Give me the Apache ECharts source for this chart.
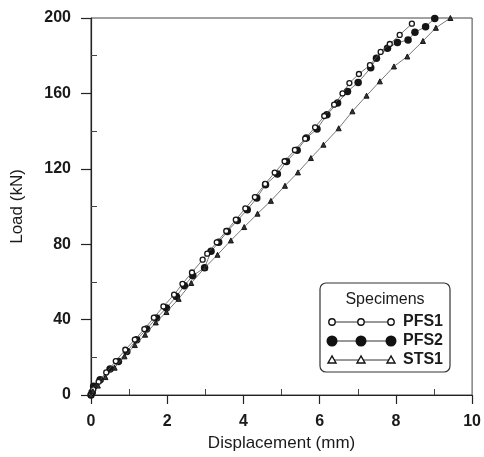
<!DOCTYPE html>
<html><head><meta charset="utf-8">
<script src="https://cdn.jsdelivr.net/npm/echarts@6/dist/echarts.min.js"></script>
<style>html,body{margin:0;padding:0;background:#fff}#c{width:484px;height:457px}</style>
</head><body><div id="c"></div>
<script>
const seriesNames = ['PFS1', 'PFS2', 'STS1'];
const pfs1X = [0, 0.06, 0.2, 0.4, 0.65, 0.9, 1.15, 1.4, 1.65, 1.9, 2.18, 2.4, 2.65, 2.93, 3.05, 3.3, 3.55, 3.8, 4.05, 4.3, 4.57, 4.82, 5.08, 5.35, 5.62, 5.88, 6.12, 6.38, 6.6, 6.78, 7.03, 7.32, 7.6, 7.84, 8.1, 8.42];
const pfs1Y = [0, 3, 7, 12, 18, 24, 29.4, 35, 41, 47, 53.2, 59, 65, 71.8, 75, 81, 87, 93, 99, 105, 112, 118, 124, 130, 136, 142, 148, 154, 160, 165.5, 170.3, 175, 182, 186.2, 191, 197];
const pfs2X = [0, 0.03, 0.07, 0.24, 0.5, 0.72, 0.94, 1.2, 1.46, 1.72, 1.98, 2.24, 2.45, 2.67, 2.98, 3.15, 3.35, 3.58, 3.84, 4.1, 4.35, 4.58, 4.89, 5.13, 5.41, 5.65, 5.93, 6.19, 6.47, 6.73, 7.01, 7.34, 7.49, 7.78, 8.04, 8.32, 8.5, 8.78, 9.02];
const pfs2Y = [0, 1.5, 4.6, 8.1, 13.8, 17.8, 23.1, 29.3, 35, 40.8, 46.2, 52.3, 58, 63.3, 67.5, 76.2, 81, 86.8, 92.6, 98.3, 104.5, 111.6, 117.2, 123.9, 129.8, 136.3, 141.1, 148.7, 154.9, 161, 165.8, 173.6, 178.6, 183.9, 187, 188.3, 192.4, 195.4, 199.8];
const sts1X = [0, 0.05, 0.18, 0.38, 0.62, 0.88, 1.15, 1.42, 1.7, 1.98, 2.3, 2.63, 2.98, 3.32, 3.67, 4.02, 4.37, 4.72, 5.09, 5.43, 5.77, 6.1, 6.5, 6.86, 7.23, 7.58, 7.95, 8.3, 8.71, 9.05, 9.43];
const sts1Y = [0, 2, 5, 9.5, 14.5, 20.5, 26.5, 32, 38.5, 44, 51, 59.4, 67.4, 74.4, 82, 89.1, 96.2, 103, 111, 118.1, 125.7, 132.8, 141.5, 150.5, 158.8, 166.4, 174.3, 179.6, 187.8, 194.8, 200];
const xMajorTicks = [0, 2, 4, 6, 8, 10];
const xMinorTicks = [1, 3, 5, 7, 9];
const yMajorTicks = [0, 40, 80, 120, 160, 200];
const yMinorTicks = [20, 60, 100, 140, 180];
const xTitle = 'Displacement (mm)';
const yTitle = 'Load (kN)';
const legendTitle = 'Specimens';

const zip = (a, b) => a.map((v, i) => [v, b[i]]);
const FONT = 'Liberation Sans, Arial, sans-serif';
const TXT = '#1a1a1a';
const lineStyle = { color: '#555', width: 0.8 };

const chart = echarts.init(document.getElementById('c'), null, { renderer: 'canvas' });

const lg = { x: 320, y: 283, w: 130, h: 89 };
const rows = [
  { name: seriesNames[0], y: 322, sym: 'openCircle' },
  { name: seriesNames[1], y: 341, sym: 'filledCircle' },
  { name: seriesNames[2], y: 360, sym: 'openTriangle' }
];
const mx = [332, 361, 391];
const legendChildren = [
  { type: 'rect', shape: { x: lg.x, y: lg.y, width: lg.w, height: lg.h, r: 6 }, style: { fill: '#fff', stroke: '#333', lineWidth: 1.2 } },
  { type: 'text', style: { x: lg.x + lg.w / 2, y: 300, text: legendTitle, font: '16px ' + FONT, fill: TXT, align: 'center', verticalAlign: 'middle' } }
];
rows.forEach(r => {
  legendChildren.push({ type: 'line', shape: { x1: mx[0], y1: r.y, x2: mx[2], y2: r.y }, style: { stroke: '#333', lineWidth: 1 } });
  mx.forEach(x => {
    if (r.sym === 'openCircle') legendChildren.push({ type: 'circle', shape: { cx: x, cy: r.y, r: 3.2 }, style: { fill: '#fff', stroke: '#111', lineWidth: 1.4 } });
    else if (r.sym === 'filledCircle') legendChildren.push({ type: 'circle', shape: { cx: x, cy: r.y, r: 5.5 }, style: { fill: '#111' } });
    else legendChildren.push({ type: 'polygon', shape: { points: [[x, r.y - 4], [x - 4, r.y + 3], [x + 4, r.y + 3]] }, style: { fill: '#fff', stroke: '#111', lineWidth: 1.4 } });
  });
  legendChildren.push({ type: 'text', style: { x: 403, y: r.y, text: r.name, font: 'bold 16px ' + FONT, fill: TXT, align: 'left', verticalAlign: 'middle' } });
});

const axisCommon = {
  axisLine: { show: true, lineStyle: { color: '#222', width: 1.2 } },
  splitLine: { show: false }
};

chart.setOption({
  animation: false,
  backgroundColor: '#fff',
  grid: { left: 91, right: 9, top: 18, bottom: 62, show: true, borderColor: '#444', borderWidth: 1, backgroundColor: 'transparent' },
  xAxis: [
    Object.assign({}, axisCommon, {
      type: 'value', min: 0, max: 10, interval: 2, position: 'bottom',
      name: xTitle, nameLocation: 'middle', nameGap: 38,
      nameTextStyle: { fontFamily: FONT, fontSize: 17, color: TXT },
      axisTick: { show: true, inside: false, length: 9, lineStyle: { color: '#222', width: 1.2 }, customValues: xMajorTicks },
      axisLabel: { fontFamily: FONT, fontSize: 16, fontWeight: 'bold', color: TXT, margin: 19, customValues: xMajorTicks }
    }),
    {
      type: 'value', min: 0, max: 10, position: 'bottom',
      axisLine: { show: false }, splitLine: { show: false }, axisLabel: { show: false },
      axisTick: { show: true, inside: true, length: 6, lineStyle: { color: '#444', width: 1 }, customValues: xMinorTicks }
    }
  ],
  yAxis: [
    Object.assign({}, axisCommon, {
      type: 'value', min: 0, max: 200, interval: 40, position: 'left',
      name: yTitle, nameLocation: 'middle', nameGap: 65, nameRotate: 90,
      nameTextStyle: { fontFamily: FONT, fontSize: 17, color: TXT },
      axisTick: { show: true, inside: false, length: 10, lineStyle: { color: '#222', width: 1.2 }, customValues: yMajorTicks },
      axisLabel: { fontFamily: FONT, fontSize: 16, fontWeight: 'bold', color: TXT, margin: 20, customValues: yMajorTicks }
    }),
    {
      type: 'value', min: 0, max: 200, position: 'left',
      axisLine: { show: false }, splitLine: { show: false }, axisLabel: { show: false },
      axisTick: { show: true, inside: true, length: 6, lineStyle: { color: '#444', width: 1 }, customValues: yMinorTicks }
    }
  ],
  series: [
    { name: seriesNames[1], type: 'line', data: zip(pfs2X, pfs2Y), symbol: 'circle', symbolSize: 7.5,
      itemStyle: { color: '#151515' }, lineStyle: lineStyle, z: 2 },
    { name: seriesNames[0], type: 'line', data: zip(pfs1X, pfs1Y), symbol: 'circle', symbolSize: 5,
      itemStyle: { color: '#fff', borderColor: '#151515', borderWidth: 1.3 }, lineStyle: lineStyle, z: 3 },
    { name: seriesNames[2], type: 'line', data: zip(sts1X, sts1Y), symbol: 'triangle', symbolSize: 5,
      itemStyle: { color: '#333', borderColor: '#151515', borderWidth: 1 }, lineStyle: lineStyle, z: 3 }
  ],
  graphic: [{ type: 'group', z: 100, children: legendChildren }]
});
</script>
</body></html>
